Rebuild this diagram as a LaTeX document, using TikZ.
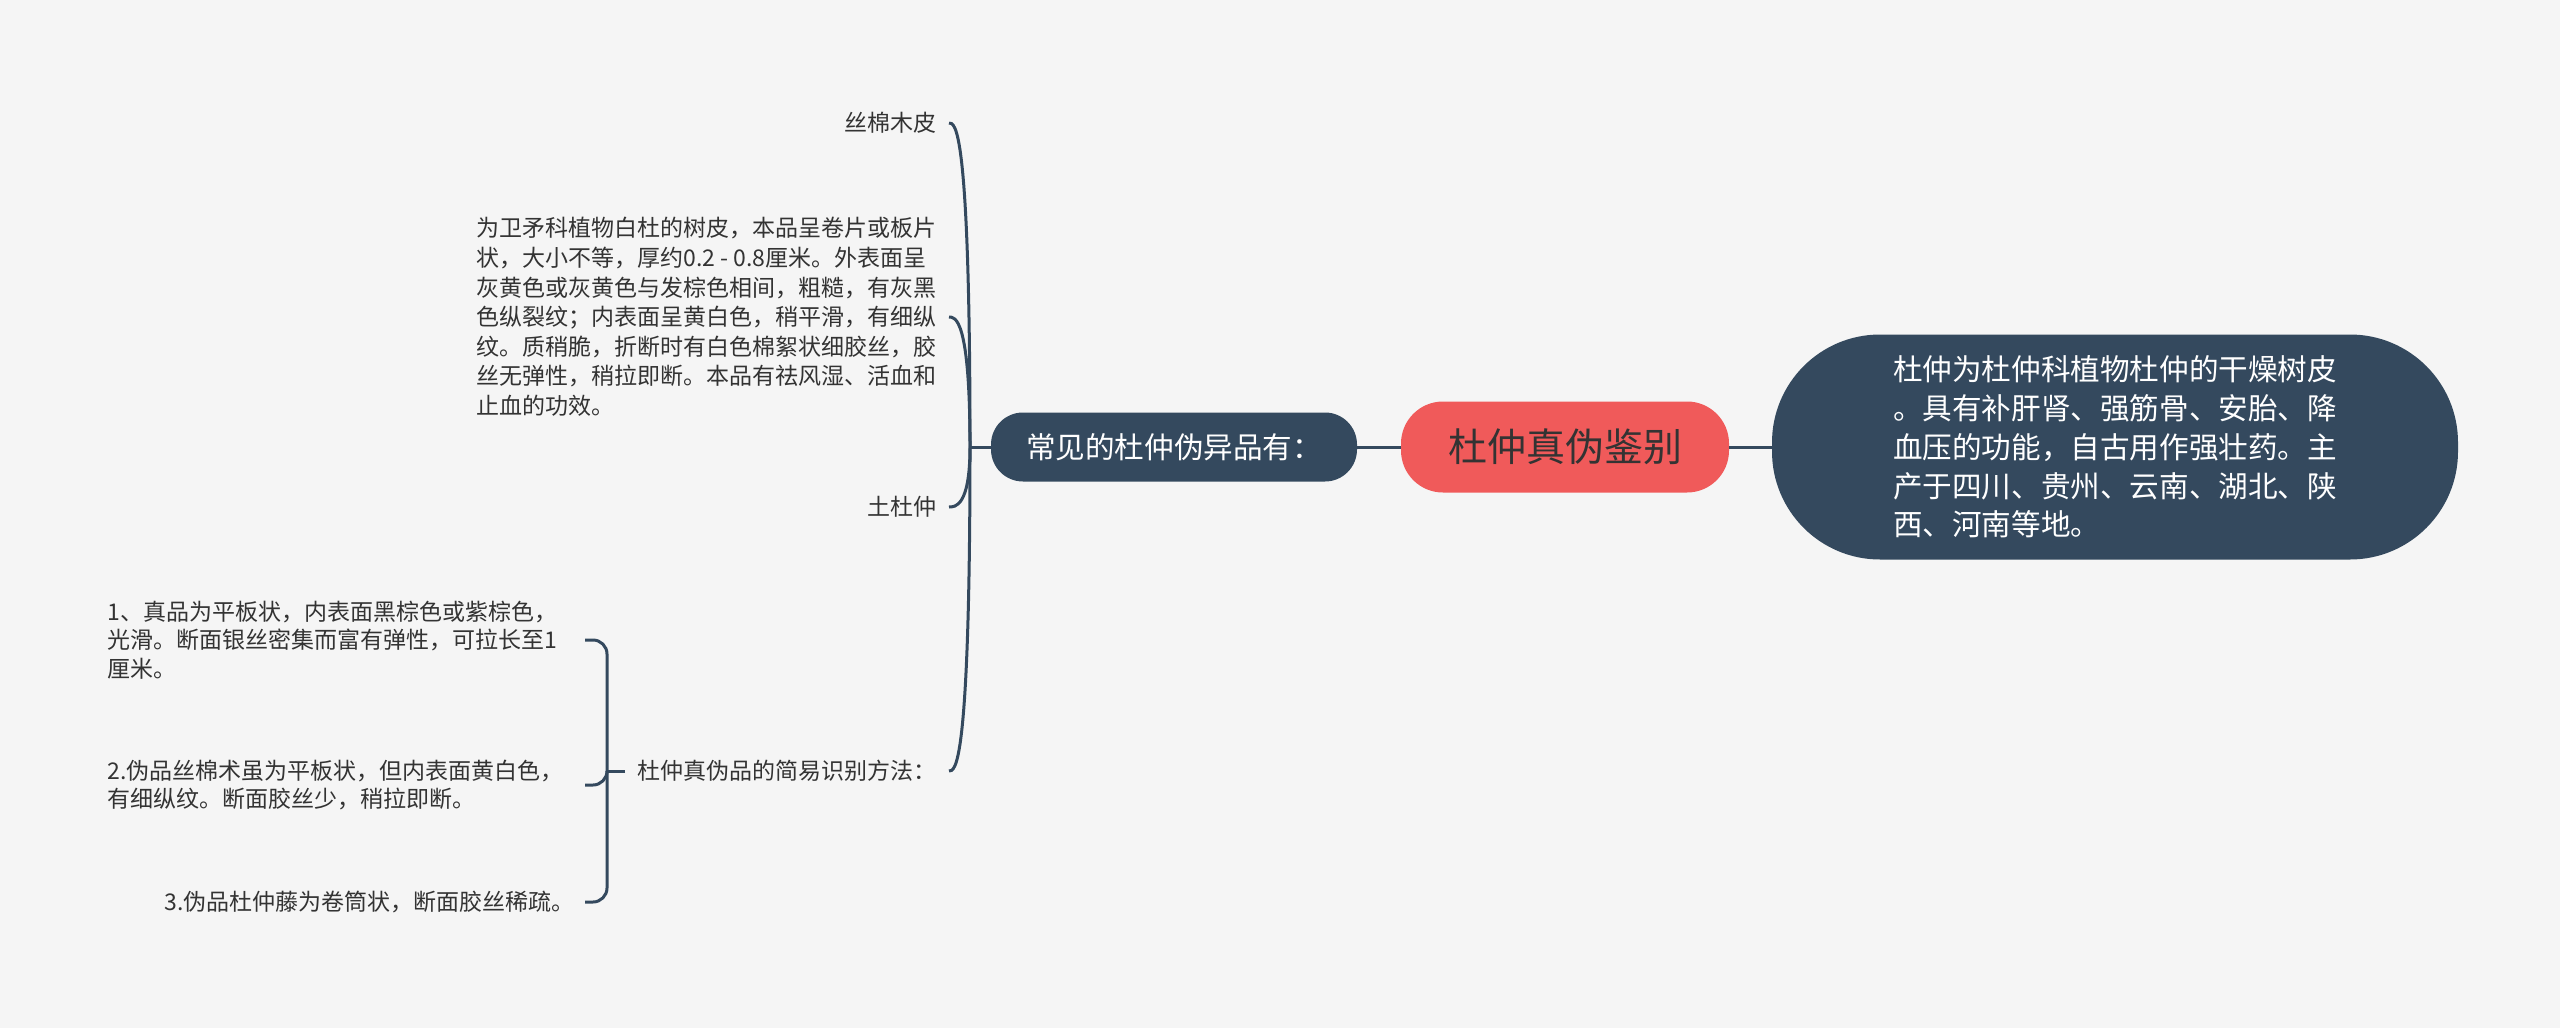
\documentclass[tikz,border=0pt]{standalone}
\usepackage{fontspec}
\setmainfont{Noto Sans CJK SC}
\usetikzlibrary{calc}
\definecolor{bgcol}{HTML}{F5F5F5}
\definecolor{navy}{HTML}{34495E}
\definecolor{coral}{HTML}{F05A5A}
\definecolor{ink}{HTML}{333333}

\begin{document}
\begin{tikzpicture}[x=0.5pt, y=-0.5pt,
  branch/.style={draw=navy, line width=1.5pt},
  topic/.style={fill=navy, text=white, font=\fontsize{14.8pt}{19.4pt}\selectfont},
  leaf/.style={anchor=east, text=ink, inner xsep=6pt, inner ysep=2pt, align=left, font=\fontsize{11.5pt}{14.8pt}\selectfont},
  detail/.style={leaf, inner xsep=12.5pt, font=\fontsize{11.5pt}{14.3pt}\selectfont}]
  \path[use as bounding box, fill=bgcol] (0,0) rectangle (2560,1028);

  % Central topic and main branches
  \node[fill=coral, text=ink, rounded corners=21pt, minimum width=164pt, minimum height=45.5pt,
        font=\fontsize{19.5pt}{23pt}\selectfont] (root) at (1565,447) {杜仲真伪鉴别};
  \node[topic, align=left, minimum width=343pt, minimum height=112.5pt, rounded corners=54pt] (intro) at (2115,447)
    {杜仲为杜仲科植物杜仲的干燥树皮\\。具有补肝肾、强筋骨、安胎、降\\血压的功能，自古用作强壮药。主\\产于四川、贵州、云南、湖北、陕\\西、河南等地。};
  \node[topic, minimum width=183pt, minimum height=34.5pt, rounded corners=16pt] (fake) at (1174,447) {常见的杜仲伪异品有：};
  \draw[branch] (root.east) -- (intro.west);
  \draw[branch] (root.west) -- (fake.east);

  % Fake varieties
  \coordinate (fork) at (970,447);
  \node[leaf] (silk) at (949,123) {丝棉木皮};
  \node[leaf] (silkinfo) at (949,317)
    {为卫矛科植物白杜的树皮，本品呈卷片或板片\\状，大小不等，厚约0.2 - 0.8厘米。外表面呈\\灰黄色或灰黄色与发棕色相间，粗糙，有灰黑\\色纵裂纹；内表面呈黄白色，稍平滑，有细纵\\纹。质稍脆，折断时有白色棉絮状细胶丝，胶\\丝无弹性，稍拉即断。本品有祛风湿、活血和\\止血的功效。};
  \node[leaf] (tu) at (949,507) {土杜仲};
  \node[leaf] (method) at (949,771) {杜仲真伪品的简易识别方法：};
  \draw[branch] (fake.west) -- (fork);
  \foreach \c in {silk,silkinfo,tu,method}
    \draw[branch] (fork) .. controls (fork |- \c.east) and ($(\c.east)+(6,0)$) .. (\c.east);

  % Identification methods
  \coordinate (fork2) at (607,771);
  \node[detail, text width=226pt] (m1) at (585,640) {1、真品为平板状，内表面黑棕色或紫棕色，\\光滑。断面银丝密集而富有弹性，可拉长至1\\厘米。};
  \node[detail, text width=226pt] (m2) at (585,785) {2.伪品丝棉术虽为平板状，但内表面黄白色，\\有细纵纹。断面胶丝少，稍拉即断。};
  \node[detail, inner xsep=5pt] (m3) at (585,902) {3.伪品杜仲藤为卷筒状，断面胶丝稀疏。};
  \draw[branch] (method.west) -- (fork2);
  \foreach \m in {m1,m2,m3}
    \draw[branch, rounded corners=7pt] (fork2) |- (\m.east);
\end{tikzpicture}
\end{document}
